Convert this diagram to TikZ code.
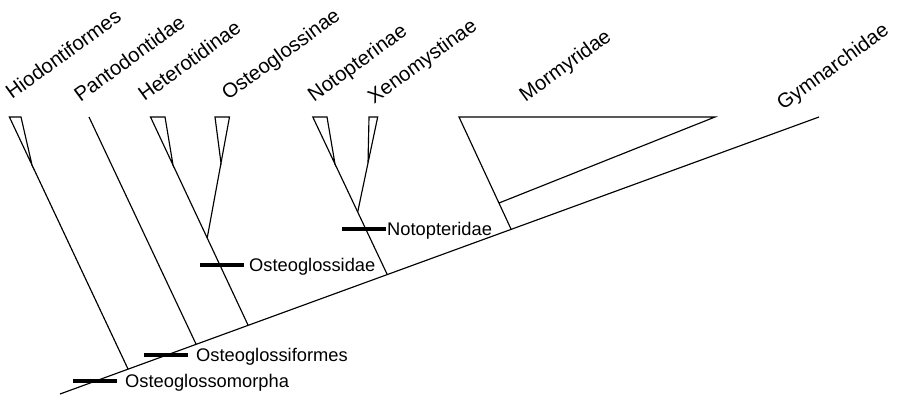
\documentclass[tikz,border=0pt]{standalone}
\usepackage{fontspec}
\setmainfont{Liberation Sans}
\begin{document}
\begin{tikzpicture}[x=1pt,y=-1pt,
  branch/.style={line width=1.15pt,line join=miter},
  marker/.style={line width=3.3pt},
  taxon/.style={anchor=base west,inner sep=0pt,rotate=36,font=\fontsize{20.3}{24}\selectfont},
  clade/.style={anchor=base west,inner sep=0pt,font=\fontsize{18.3}{22}\selectfont}]
\useasboundingbox (0,0) rectangle (899,397);
% spine
\coordinate (S0) at (60,394);
\coordinate (S1) at (819,117);
% joins on spine
\coordinate (J1) at (128,369);
\coordinate (J2) at (196,344);
\coordinate (J3) at (248,325);
\coordinate (J4) at (387,274);
\coordinate (J5) at (511,229);
% Hiodontiformes
\coordinate (H1) at (9.4,117);
\coordinate (H2) at (21,117);
\coordinate (HA) at (32,165);
% Pantodontidae
\coordinate (P1) at (89,117);
% Heterotidinae
\coordinate (T1) at (150.5,117);
\coordinate (T2) at (165,117);
\coordinate (TA) at (173,165);
% Osteoglossinae
\coordinate (OJ) at (207.2,238);
\coordinate (OA) at (221,163);
\coordinate (O1) at (215,117);
\coordinate (O2) at (229.5,117);
% Notopterinae
\coordinate (N1) at (312.8,117);
\coordinate (N2) at (327,117);
\coordinate (NA) at (335,164);
% Xenomystinae
\coordinate (XJ) at (357.7,212);
\coordinate (XA) at (368,163);
\coordinate (X1) at (369,117);
\coordinate (X2) at (377.7,117);
% Mormyridae
\coordinate (M1) at (459,117);
\coordinate (M2) at (715,117);
\coordinate (MJ) at (499,203);

\draw[branch] (S0) -- (S1);
\draw[branch] (J1) -- (HA);
\draw[branch] (H1) -- (H2) -- (HA) -- cycle;
\draw[branch] (J2) -- (P1);
\draw[branch] (J3) -- (TA);
\draw[branch] (T1) -- (T2) -- (TA) -- cycle;
\draw[branch] (OJ) -- (OA);
\draw[branch] (O1) -- (O2) -- (OA) -- cycle;
\draw[branch] (J4) -- (NA);
\draw[branch] (N1) -- (N2) -- (NA) -- cycle;
\draw[branch] (XJ) -- (XA);
\draw[branch] (X1) -- (X2) -- (XA) -- cycle;
\draw[branch] (J5) -- (M1) -- (M2) -- (MJ);

% taxon labels
\node[taxon] (lHio) at (12,100) {Hiodontiformes};
\node[taxon] (lPan) at (80.5,102.5) {Pantodontidae};
\node[taxon] (lHet) at (144.5,102) {Heterotidinae};
\node[taxon] (lOst) at (228,101) {Osteoglossinae};
\node[taxon] (lNot) at (314,102.5) {Notopterinae};
\node[taxon] (lXen) at (374,104.5) {Xenomystinae};
\node[taxon] (lMor) at (525.5,102.5) {Mormyridae};
\node[taxon] (lGym) at (783,111) {Gymnarchidae};

% clade markers
\coordinate (a1) at (73,381);  \coordinate (a2) at (117,381);
\coordinate (b1) at (144,355); \coordinate (b2) at (188,355);
\coordinate (c1) at (200,265); \coordinate (c2) at (244,265);
\coordinate (d1) at (342,229); \coordinate (d2) at (386,229);
\draw[marker] (a1) -- (a2);
\draw[marker] (b1) -- (b2);
\draw[marker] (c1) -- (c2);
\draw[marker] (d1) -- (d2);
\node[clade] (lOsm) at ([xshift=8pt,yshift=-6.5pt]a2) {Osteoglossomorpha};
\node[clade] (lOsf) at ([xshift=8pt,yshift=-6.5pt]b2) {Osteoglossiformes};
\node[clade] (lOsd) at ([xshift=5pt,yshift=-6.5pt]c2) {Osteoglossidae};
\node[clade] (lNtp) at ([xshift=1pt,yshift=-6.5pt]d2) {Notopteridae};
\end{tikzpicture}
\end{document}
